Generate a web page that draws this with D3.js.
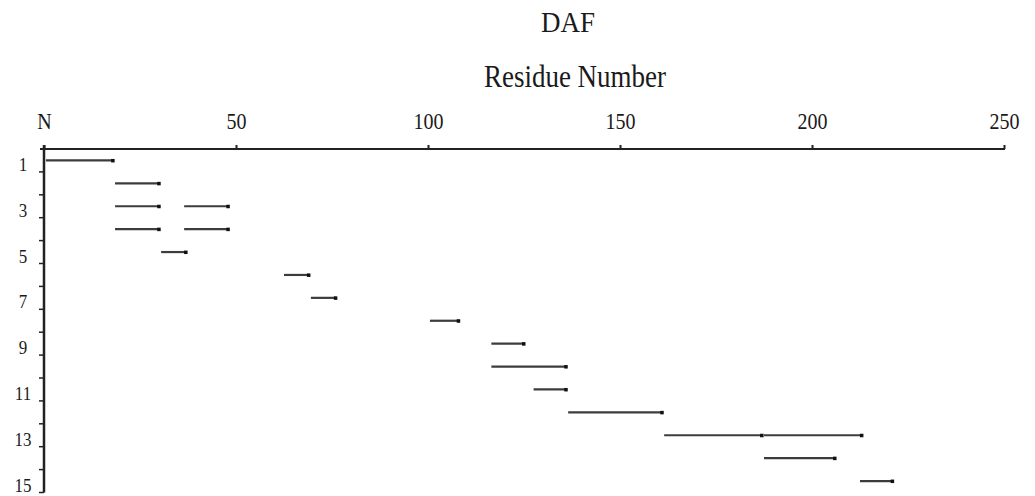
<!DOCTYPE html>
<html lang="en">
<head>
  <meta charset="utf-8">
  <title>DAF fragments</title>
  <style>
    body { margin: 0; background: #fff; }
    svg text { font-family: "Liberation Serif", "Times New Roman", serif; fill: #1a1a1a; }
  </style>
</head>
<body>
  <svg class="canvas" width="1035" height="496"></svg>

  <script src="https://d3js.org/d3.v7.min.js"></script>
  <script>

// fragments: row, first and last residue
let fragRow   = [1, 2, 3, 3, 4, 4, 5, 6, 7, 8, 9, 10, 11, 12, 13, 13, 14, 15]
let fragStart = [1, 19, 19, 37, 19, 37, 31, 63, 70, 101, 117, 117, 128, 137, 162, 188, 188, 213]
let fragEnd   = [18, 30, 30, 48, 30, 48, 37, 69, 76, 108, 125, 136, 136, 161, 187, 213, 206, 221]

let xTicks = [0, 50, 100, 150, 200, 250]
let xTickLabels = ["N", "50", "100", "150", "200", "250"]
let rowLabels = [1, 3, 5, 7, 9, 11, 13, 15]
let nRows = 15

let svg = d3.select(".canvas")

let x = d3.scaleLinear().domain([0, 250]).range([44, 1004])
let y = d3.scaleLinear().domain([0, nRows]).range([149, 492.5])

// stretch text a bit vertically, like the scanned figure
function stretch(sel, s) {
  sel.each(function() {
    let t = d3.select(this)
    let tx = +t.attr("x") || 0, ty = +t.attr("y") || 0
    t.attr("transform", (t.attr("transform") || "") + " translate(" + tx + "," + ty + ") scale(1," + s + ")")
     .attr("x", 0).attr("y", 0)
  })
}

// titles
svg.append("text").attr("x", 568).attr("y", 32)
  .attr("text-anchor", "middle").style("font-size", "27px").text("DAF")
  .call(stretch, 1.13)
svg.append("text").attr("x", 575).attr("y", 87)
  .attr("text-anchor", "middle").style("font-size", "27px").text("Residue Number")
  .call(stretch, 1.15)

// top axis
let xAxis = d3.axisTop(x)
  .tickValues(xTicks)
  .tickSize(4)
  .tickSizeOuter(0)
  .tickPadding(16)
  .tickFormat(function(d, i) { return xTickLabels[i] })

let gx = svg.append("g").attr("class", "x axis")
  .attr("transform", "translate(0," + y(0) + ")")
  .call(xAxis)
gx.select(".domain").remove()
gx.selectAll("line").attr("stroke", "#222").attr("stroke-width", 2)
gx.selectAll("text")
  .attr("fill", "#1a1a1a")
  .style("font-size", "20px")
  .style("font-family", "'Liberation Serif', 'Times New Roman', serif")
  .call(stretch, 1.12)

svg.append("line")
  .attr("x1", x(0) - 4).attr("x2", x(250) + 1)
  .attr("y1", y(0)).attr("y2", y(0))
  .attr("stroke", "#222").attr("stroke-width", 2)

// left axis: boundary ticks, labels on odd rows
let gy = svg.append("g").attr("class", "y axis")
gy.append("line")
  .attr("x1", x(0)).attr("x2", x(0))
  .attr("y1", y(0) - 4).attr("y2", y(nRows))
  .attr("stroke", "#222").attr("stroke-width", 2.5)

gy.selectAll("line.tick").data(d3.range(1, nRows + 1))
  .enter().append("line")
    .attr("class", "tick")
    .attr("x1", x(0) - 5).attr("x2", x(0))
    .attr("y1", function(d) { return y(d) })
    .attr("y2", function(d) { return y(d) })
    .attr("stroke", "#222").attr("stroke-width", 1.5)

gy.selectAll("text").data(rowLabels)
  .enter().append("text")
    .attr("x", 23)
    .attr("y", function(d) { return y(d) - 1 })
    .attr("text-anchor", "middle")
    .style("font-size", "17px")
    .text(function(d) { return d })
    .call(stretch, 1.1)

// fragments
let frags = fragRow.map(function(r, i) {
  return {row: r, start: fragStart[i], end: fragEnd[i]}
})

let fg = svg.append("g").attr("class", "frags")
fg.selectAll("line").data(frags)
  .enter().append("line")
    .attr("x1", function(d) { return x(d.start - 0.5) })
    .attr("x2", function(d) { return x(d.end) })
    .attr("y1", function(d) { return y(d.row - 0.5) })
    .attr("y2", function(d) { return y(d.row - 0.5) })
    .attr("stroke", "#3c3c3c").attr("stroke-width", 2.2)

fg.selectAll("rect").data(frags)
  .enter().append("rect")
    .attr("x", function(d) { return x(d.end) - 2 })
    .attr("y", function(d) { return y(d.row - 0.5) - 1.5 })
    .attr("width", 3.5).attr("height", 3.5)
    .attr("fill", "#111")

  </script>
</body>
</html>
